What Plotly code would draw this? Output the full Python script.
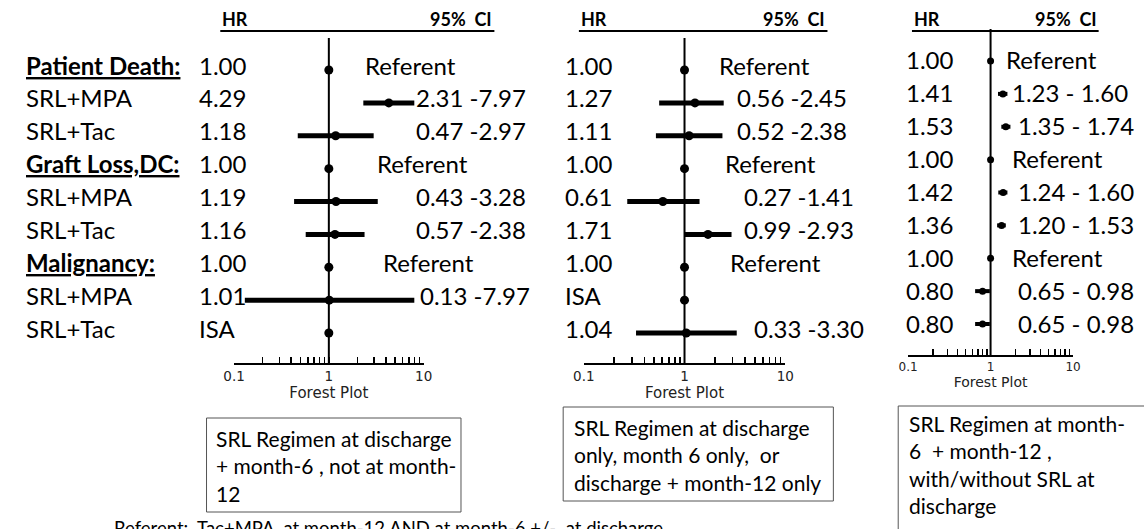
import plotly.graph_objects as go

W, H = 1144, 529

# ---------------- data ----------------
row_labels = ["Patient Death:", "SRL+MPA", "SRL+Tac",
              "Graft Loss,DC:", "SRL+MPA", "SRL+Tac",
              "Malignancy:", "SRL+MPA", "SRL+Tac"]
group_header_rows = [0, 3, 6]
rows = list(range(1, 10))

# Panel 1: SRL regimen at discharge + month-6, not at month-12
p1_hr = [1.00, 4.29, 1.18, 1.00, 1.19, 1.16, 1.00, 1.01, 1.00]
p1_lo = [None, 2.31, 0.47, None, 0.43, 0.57, None, 0.13, None]
p1_hi = [None, 7.97, 2.97, None, 3.28, 2.38, None, 7.97, None]
p1_hr_text = ["1.00", "4.29", "1.18", "1.00", "1.19", "1.16", "1.00", "1.01", "ISA"]
p1_ci_text = ["Referent", "2.31 -7.97", "0.47 -2.97", "Referent", "0.43 -3.28",
              "0.57 -2.38", "Referent", "0.13 -7.97", ""]

# Panel 2: SRL at discharge only, month 6 only, or discharge + month-12 only
p2_hr = [1.00, 1.27, 1.11, 1.00, 0.61, 1.71, 1.00, 1.00, 1.04]
p2_lo = [None, 0.56, 0.52, None, 0.27, 0.99, None, None, 0.33]
p2_hi = [None, 2.45, 2.38, None, 1.41, 2.93, None, None, 3.30]
p2_hr_text = ["1.00", "1.27", "1.11", "1.00", "0.61", "1.71", "1.00", "ISA", "1.04"]
p2_ci_text = ["Referent", "0.56 -2.45", "0.52 -2.38", "Referent", "0.27 -1.41",
              "0.99 -2.93", "Referent", "", "0.33 -3.30"]

# Panel 3: SRL at month-6 + month-12, with/without SRL at discharge
p3_hr = [1.00, 1.41, 1.53, 1.00, 1.42, 1.36, 1.00, 0.80, 0.80]
p3_lo = [None, 1.23, 1.35, None, 1.24, 1.20, None, 0.65, 0.65]
p3_hi = [None, 1.60, 1.74, None, 1.60, 1.53, None, 0.98, 0.98]
p3_hr_text = ["1.00", "1.41", "1.53", "1.00", "1.42", "1.36", "1.00", "0.80", "0.80"]
p3_ci_text = ["Referent", "1.23 - 1.60", "1.35 - 1.74", "Referent", "1.24 - 1.60",
              "1.20 - 1.53", "Referent", "0.65 - 0.98", "0.65 - 0.98"]

tick_vals = [0.1, 1, 10]
tick_text = ["0.1", "1", "10"]
minor_tick_vals = [0.2, 0.3, 0.4, 0.5, 0.6, 0.7, 0.8, 0.9, 2, 3, 4, 5, 6, 7, 8, 9]
axis_title = "Forest Plot"
header_hr = "HR"
header_ci = "95%\u00a0\u00a0CI"

box_texts = [
    "SRL Regimen at discharge<br>+ month-6 , not at month-<br>12",
    "SRL Regimen at discharge<br>only, month 6 only,\u00a0 or<br>discharge + month-12 only",
    "SRL Regimen at month-<br>6\u00a0 + month-12 ,<br>with/without SRL at<br>discharge",
]
footnote = "Referent:\u00a0 Tac+MPA\u00a0 at month-12 AND at month-6 +/-\u00a0 at discharge"

# ---------------- layout (pixel positions) ----------------
STEP = 32.875
panels = [
    dict(hr=p1_hr, lo=p1_lo, hi=p1_hi, hr_text=p1_hr_text, ci_text=p1_ci_text,
         ax=(227, 420), ytop=38, ybot=363, row1=70, hr_x=189, hdr=(213, 492),
         ci_x=[358, 410, 410, 370, 410, 410, 377, 414, 414],
         box=(199, 458, 418, 512), box_txt=(207, 424),
         msize=9, lw=5, tick_fs=13.5, title_fs=15, yshift=5),
    dict(hr=p2_hr, lo=p2_lo, hi=p2_hi, hr_text=p2_hr_text, ci_text=p2_ci_text,
         ax=(583, 788), ytop=38, ybot=363, row1=70, hr_x=562, hdr=(578, 831),
         ci_x=[719, 737, 737, 725, 744, 744, 730, 754, 754],
         box=(562, 837, 407, 501), box_txt=(571, 413),
         msize=9, lw=5, tick_fs=13.5, title_fs=15, yshift=5),
    dict(hr=p3_hr, lo=p3_lo, hi=p3_hi, hr_text=p3_hr_text, ci_text=p3_ci_text,
         ax=(913, 1081), ytop=29, ybot=355, row1=61, hr_x=909, hdr=(917, 1107),
         ci_x=[1011, 1017, 1023, 1017, 1023, 1023, 1017, 1023, 1023],
         box=(903, 1160, 406, 545), box_txt=(912, 409),
         msize=7, lw=4, tick_fs=12, title_fs=14, yshift=1),
]


def px(x):
    return x / W


def py(y):
    return 1 - y / H


FONT = "Lato"
fig = go.Figure()
annotations = []
shapes = []
layout_axes = {}

for i, p in enumerate(panels):
    n = "" if i == 0 else str(i + 1)
    xa, ya = "x" + n, "y" + n
    # CI bars
    xs, ys = [], []
    for lo, hi, r in zip(p["lo"], p["hi"], rows):
        if lo is None:
            continue
        xs += [lo, hi, None]
        ys += [r, r, None]
    fig.add_trace(go.Scatter(x=xs, y=ys, mode="lines", xaxis=xa, yaxis=ya,
                             line=dict(color="black", width=p["lw"]),
                             hoverinfo="skip", showlegend=False))
    # point estimates
    fig.add_trace(go.Scatter(x=p["hr"], y=rows, mode="markers", xaxis=xa, yaxis=ya,
                             marker=dict(color="black", size=p["msize"]),
                             showlegend=False))
    r_top = 1 + (p["ytop"] - p["row1"]) / STEP
    r_bot = 1 + (p["ybot"] - p["row1"]) / STEP
    layout_axes["xaxis" + n] = dict(
        type="log", range=[-1, 1], domain=[px(p["ax"][0]), px(p["ax"][1])],
        anchor=ya, tickvals=tick_vals, ticktext=tick_text,
        ticks="inside", ticklen=6, tickwidth=1.5, tickcolor="black",
        showline=True, linewidth=2, linecolor="black",
        showgrid=False, zeroline=False,
        tickfont=dict(family="DejaVu Sans", size=p["tick_fs"], color="#222"),
        ticklabelstandoff=0,
        minor=dict(tickvals=minor_tick_vals, ticks="inside", ticklen=6,
                   tickwidth=1.5, tickcolor="black", showgrid=False),
        title=dict(text=axis_title, standoff=0,
                   font=dict(family="DejaVu Sans", size=p["title_fs"], color="#222")),
    )
    layout_axes["yaxis" + n] = dict(
        range=[r_bot, r_top], domain=[py(p["ybot"]), py(p["ytop"])],
        anchor=xa, visible=False, showgrid=False, zeroline=False,
    )
    # reference line at HR = 1
    shapes.append(dict(type="line", xref=xa, x0=1, x1=1, yref=ya + " domain", y0=0, y1=1,
                       line=dict(color="black", width=2)))
    # header underline
    shapes.append(dict(type="line", xref="paper", yref="paper",
                       x0=px(p["hdr"][0]), x1=px(p["hdr"][1]), y0=py(31), y1=py(31),
                       line=dict(color="black", width=2)))
    annotations.append(dict(text="<b>%s</b>" % header_hr, xref="paper", yref="paper",
                            x=px(p["hdr"][0]), y=py(19), xanchor="left", yanchor="middle",
                            showarrow=False, font=dict(family=FONT, size=18, color="black")))
    annotations.append(dict(text="<b>%s</b>" % header_ci, xref="paper", yref="paper",
                            x=px(p["hdr"][1]), y=py(19), xanchor="right", yanchor="middle",
                            showarrow=False, font=dict(family=FONT, size=18, color="black")))
    # HR and CI texts
    for r, t, c, cx in zip(rows, p["hr_text"], p["ci_text"], p["ci_x"]):
        annotations.append(dict(text=t, xref="paper", yref=ya, x=px(p["hr_x"]), y=r,
                                xanchor="left", yanchor="middle", yshift=p["yshift"],
                                showarrow=False, font=dict(family=FONT, size=24, color="black")))
        if c:
            annotations.append(dict(text=c, xref="paper", yref=ya, x=px(cx), y=r,
                                    xanchor="left", yanchor="middle", yshift=p["yshift"],
                                    showarrow=False,
                                    font=dict(family=FONT, size=24, color="black")))
    # description box
    bx0, bx1, by0, by1 = p["box"]
    shapes.append(dict(type="rect", xref="paper", yref="paper",
                       x0=px(bx0), x1=px(bx1), y0=py(by1), y1=py(by0),
                       line=dict(color="#555", width=1), fillcolor="rgba(0,0,0,0)"))
    annotations.append(dict(text=box_texts[i], xref="paper", yref="paper",
                            x=px(p["box_txt"][0]), y=py(p["box_txt"][1]),
                            xanchor="left", yanchor="top", align="left", showarrow=False,
                            font=dict(family=FONT, size=21, color="black")))

# row labels
for k, (lab, r) in enumerate(zip(row_labels, rows)):
    is_hdr = k in group_header_rows
    annotations.append(dict(
        text="<b>%s</b>" % lab if is_hdr else lab, xref="paper", yref="y", x=px(13), y=r,
        xanchor="left", yanchor="middle", yshift=5, showarrow=False,
        font=dict(family=FONT, size=24, color="black",
                  lineposition="under" if is_hdr else "none")))

annotations.append(dict(text=footnote, xref="paper", yref="paper", x=px(103), y=py(515),
                        xanchor="left", yanchor="top", showarrow=False,
                        font=dict(family=FONT, size=18.5, color="black")))

fig.update_layout(width=W, height=H, margin=dict(l=0, r=0, t=0, b=0),
                  paper_bgcolor="white", plot_bgcolor="white",
                  annotations=annotations, shapes=shapes, showlegend=False,
                  **layout_axes)

fig.write_html("out.html",
               config=dict(displayModeBar=False, staticPlot=True),
               post_script="document.body.style.margin='0';"
                           "document.body.style.overflow='hidden';")
